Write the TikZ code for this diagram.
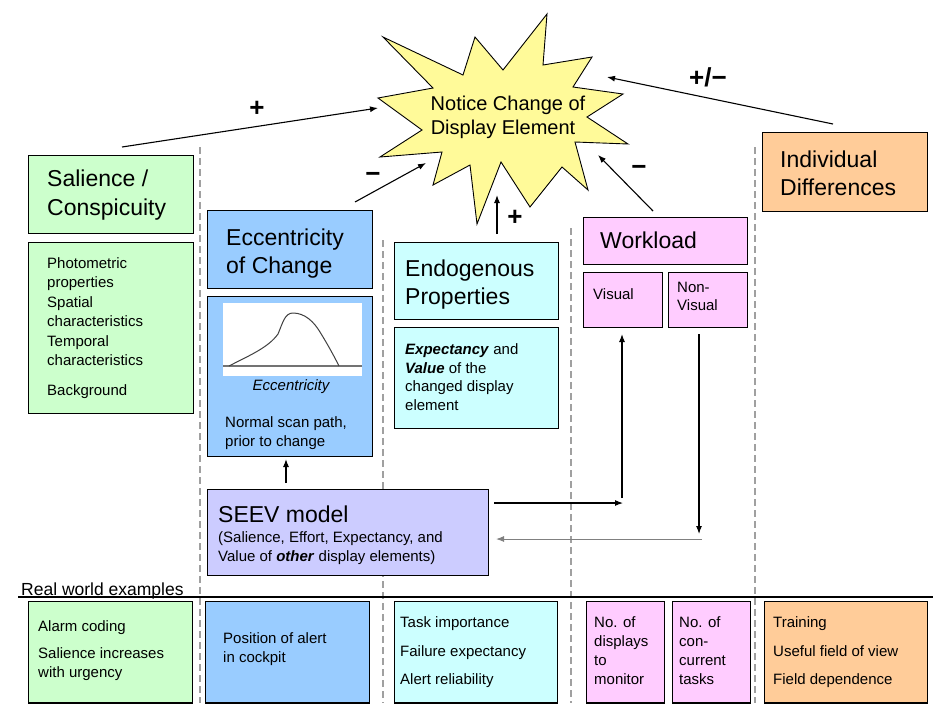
\documentclass[tikz,border=0pt]{standalone}
\usepackage{fontspec}
\setmainfont{Liberation Sans}
\usetikzlibrary{arrows.meta,fit}
\definecolor{cgreen}{HTML}{CCFFCC}
\definecolor{cblue}{HTML}{99CCFF}
\definecolor{ccyan}{HTML}{CCFFFF}
\definecolor{cpink}{HTML}{FFCCFF}
\definecolor{corange}{HTML}{FFCC99}
\definecolor{cseev}{HTML}{CCCCFF}
\definecolor{cstar}{HTML}{FFFA99}
\definecolor{cdash}{HTML}{A0A0A0}
\begin{document}
\begin{tikzpicture}[x=1pt,y=-1pt,
  box/.style={draw=black, line width=0.9pt, inner sep=0pt, outer sep=0pt},
  big/.style={anchor=base west, inner sep=0pt, font=\fontsize{23}{27}\selectfont},
  mid/.style={anchor=base, inner sep=0pt, font=\fontsize{20}{24}\selectfont},
  small/.style={anchor=base west, inner sep=0pt, font=\fontsize{15}{18}\selectfont},
  arr/.style={-{Latex[length=8pt,width=6pt]}, line width=1.1pt},
  sepline/.style={draw=cdash, dash pattern=on 7pt off 4pt, line width=1.5pt},
  sign/.style={inner sep=0pt, font=\fontsize{26}{26}\selectfont\bfseries}
]
\useasboundingbox (0,0) rectangle (949,724);
\fill[white] (0,0) rectangle (949,724);

% column separators
\draw[sepline] (200,147) -- (200,703);
\draw[sepline] (383,240) -- (383,703);
\draw[sepline] (571,228) -- (571,703);
\draw[sepline] (755,147) -- (755,703);

% star
\filldraw[fill=cstar, draw=black, line width=0.9pt, line join=miter]
 (383,37) -- (463,75) -- (475,37) -- (503,70) -- (547,14) -- (543,65) -- (592,57)
 -- (573,87) -- (623,94) -- (587,117) -- (628,144) -- (575,142) -- (588,190)
 -- (562,167) -- (530,207) -- (501,162) -- (477,224) -- (470,165) -- (433,185)
 -- (442,152) -- (380,157) -- (422,130) -- (378,98) -- (433,88) -- cycle;
\node[mid] (star1) at (508,110) {Notice Change of};
\node[mid] (star2) at (503,134) {Display Element};

% Salience column
\node[box, fill=cgreen, fit={(28,155)(193,233)}] (sal) {};
\node[big] (salA) at (47,186) {Salience /};
\node[big] (salB) at (47,215) {Conspicuity};
\node[box, fill=cgreen, fit={(28,242)(193,413)}] (sald) {};
\node[small] (sd1) at (47,268) {Photometric};
\node[small] (sd2) at (47,287) {properties};
\node[small] (sd3) at (47,307) {Spatial};
\node[small] (sd4) at (47,326) {characteristics};
\node[small] (sd5) at (47,346) {Temporal};
\node[small] (sd6) at (47,365) {characteristics};
\node[small] (sd7) at (47,395) {Background};

% Eccentricity column
\node[box, fill=cblue, fit={(207,210)(372,288)}] (ecc) {};
\node[big] (eccA) at (226,245) {Eccentricity};
\node[big] (eccB) at (226,273) {of Change};
\node[box, fill=cblue, fit={(207,296)(372,456)}] (eccd) {};
\fill[white] (223,303) rectangle (362,376);
\draw[gray!90!black, line width=2pt] (223,366) -- (362,366);
\draw[black!75, line width=1pt] (229,366) .. controls (248,356) and (268,348) .. (278,334)
  .. controls (283,322) and (285,313) .. (293,313)
  .. controls (305,313) and (314,322) .. (320,332)
  .. controls (328,345) and (334,356) .. (339,366);
\node[anchor=base, inner sep=0pt, font=\fontsize{15}{18}\selectfont\itshape] (eccx) at (291,390) {Eccentricity};
\node[small] (ed1) at (225,427) {Normal scan path,};
\node[small] (ed2) at (225,446) {prior to change};

% Endogenous column
\node[box, fill=ccyan, fit={(394,242)(558,319)}] (endo) {};
\node[big] (endoA) at (405,276) {Endogenous};
\node[big] (endoB) at (405,304) {Properties};
\node[box, fill=ccyan, fit={(394,327)(558,428)}] (endod) {};
\node[small] (nd1) at (405,354) {\textbf{\textit{Expectancy}} and};
\node[small] (nd2) at (405,373) {\textbf{\textit{Value}} of the};
\node[small] (nd3) at (405,391) {changed display};
\node[small] (nd4) at (405,410) {element};

% Workload column
\node[box, fill=cpink, fit={(583,217)(747,264)}] (work) {};
\node[big] (workA) at (600,248) {Workload};
\node[box, fill=cpink, fit={(583,272)(662,327)}] (vis) {};
\node[small] (visA) at (593,299) {Visual};
\node[box, fill=cpink, fit={(668,272)(747,327)}] (nvis) {};
\node[small] (nvisA) at (677,292) {Non-};
\node[small] (nvisB) at (677,310) {Visual};

% Individual differences
\node[box, fill=corange, fit={(762,132)(927,211)}] (indiv) {};
\node[big] (indA) at (780,167) {Individual};
\node[big] (indB) at (780,195) {Differences};

% SEEV model
\node[box, fill=cseev, fit={(207,489)(488,575)}] (seev) {};
\node[big] (seevA) at (218,522) {SEEV model};
\node[small] (seevB) at (218,542) {(Salience, Effort, Expectancy, and};
\node[small] (seevC) at (218,561) {Value of \textbf{\textit{other}} display elements)};

% arrows into the star
\coordinate (p1s) at (122,147); \coordinate (p1e) at (378,108);
\coordinate (p2s) at (355,202); \coordinate (p2e) at (426,163);
\coordinate (p3s) at (497,234); \coordinate (p3e) at (497,195);
\coordinate (p4s) at (653,211); \coordinate (p4e) at (598,155);
\coordinate (p5s) at (833,124); \coordinate (p5e) at (607,77);
\draw[arr] (p1s) -- (p1e);
\draw[arr] (p2s) -- (p2e);
\draw[arr] (p3s) -- (p3e);
\draw[arr] (p4s) -- (p4e);
\draw[arr] (p5s) -- (p5e);
\node[sign] (s1) at (257,109) {+};
\node[sign] (s2) at (373,177) {−};
\node[sign] (s3) at (515,218) {+};
\node[sign] (s4) at (639,170) {−};
\node[sign] (s5) at (708,77) {+/−};

% SEEV to eccentricity
\coordinate (q1s) at (286,483); \coordinate (q1e) at (286,459);
\draw[arr] (q1s) -- (q1e);

% SEEV <-> workload
\coordinate (r1s) at (494,503); \coordinate (r1e) at (623,503);
\coordinate (r2s) at (622,498); \coordinate (r2e) at (622,334);
\draw[arr] (r1s) -- (r1e);
\draw[arr] (r2s) -- (r2e);
\coordinate (r3s) at (699,334); \coordinate (r3e) at (699,534);
\coordinate (r4s) at (702,539); \coordinate (r4e) at (496,539);
\draw[arr] (r3s) -- (r3e);
\draw[arr, draw=gray, line width=1pt] (r4s) -- (r4e);

% Real world examples
\node[anchor=base west, inner sep=0pt, font=\fontsize{17.5}{20}\selectfont] (rwe) at (21,595) {Real world examples};
\coordinate (hl1) at (18,597); \coordinate (hl2) at (933,597);
\draw[line width=1.2pt] (hl1) -- (hl2);

\node[box, fill=cgreen, fit={(28,601)(192,703)}] (ex1) {};
\node[box, fill=cblue, fit={(205,601)(369,703)}] (ex2) {};
\node[box, fill=ccyan, fit={(394,601)(557,703)}] (ex3) {};
\node[box, fill=cpink, fit={(586,601)(664,703)}] (ex4) {};
\node[box, fill=cpink, fit={(672,601)(750,703)}] (ex5) {};
\node[box, fill=corange, fit={(764,601)(927,703)}] (ex6) {};
\foreach \n in {ex1,ex2,ex3,ex4,ex5,ex6}
  \draw[line width=2.2pt] (\n.south west) -- (\n.south east);

\node[small] (e1a) at (38,631) {Alarm coding};
\node[small] (e1b) at (38,658) {Salience increases};
\node[small] (e1c) at (38,677) {with urgency};
\node[small] (e2a) at (223,643) {Position of alert};
\node[small] (e2b) at (223,662) {in cockpit};
\node[small] (e3a) at (400,627) {Task importance};
\node[small] (e3b) at (400,656) {Failure expectancy};
\node[small] (e3c) at (400,684) {Alert reliability};
\node[small] (e4a) at (594,627) {No. of};
\node[small] (e4b) at (594,646) {displays};
\node[small] (e4c) at (594,665) {to};
\node[small] (e4d) at (594,684) {monitor};
\node[small] (e5a) at (679,627) {No. of};
\node[small] (e5b) at (679,646) {con-};
\node[small] (e5c) at (679,665) {current};
\node[small] (e5d) at (679,684) {tasks};
\node[small] (e6a) at (773,627) {Training};
\node[small] (e6b) at (773,656) {Useful field of view};
\node[small] (e6c) at (773,684) {Field dependence};
\end{tikzpicture}
\end{document}
